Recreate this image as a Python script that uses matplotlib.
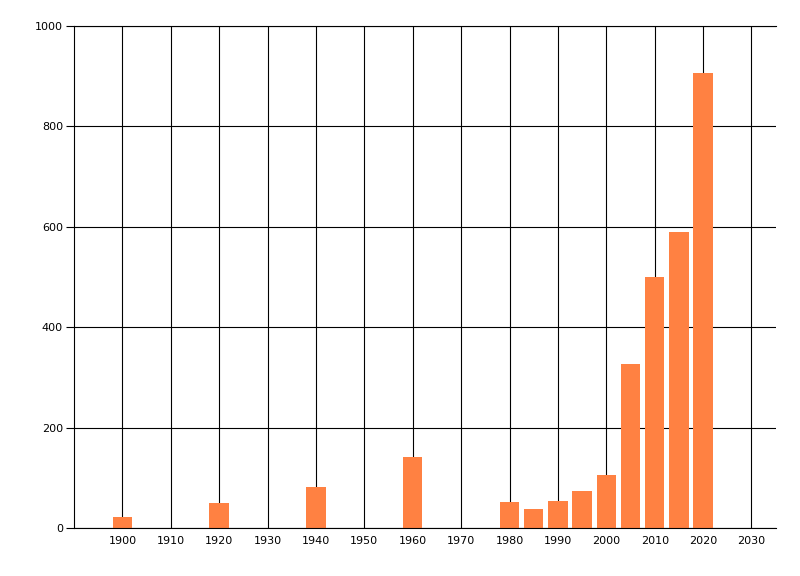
import matplotlib
matplotlib.use("Agg")
import matplotlib.pyplot as plt

years = [1900, 1920, 1940, 1960, 1980, 1985, 1990, 1995, 2000, 2005, 2010, 2015, 2020]
counts = [22, 50, 82, 141, 51, 38, 54, 74, 106, 326, 500, 590, 906]
xticks = list(range(1900, 2031, 10))
yticks = [0, 200, 400, 600, 800, 1000]

BAR_COLOR = "#FF8142"

fig = plt.figure(figsize=(8, 5.76), dpi=100)
ax = fig.add_axes([0.0925, 0.0833, 0.8771, 0.8716])

ax.set_axisbelow(True)
ax.grid(True, color="black", linewidth=0.8)
ax.bar(years, counts, width=4, color=BAR_COLOR, zorder=2)

ax.set_xlim(1890, 2035)
ax.set_ylim(0, 1000)
ax.set_xticks(xticks)
ax.set_yticks(yticks)
ax.tick_params(axis="x", length=0, pad=6, labelsize=8)
ax.tick_params(axis="y", length=6, width=0.8, pad=2, labelsize=8)

for side in ["left", "bottom", "top"]:
    ax.spines[side].set_linewidth(0.8)
ax.spines["right"].set_visible(False)

fig.savefig("out.png", dpi=100)
